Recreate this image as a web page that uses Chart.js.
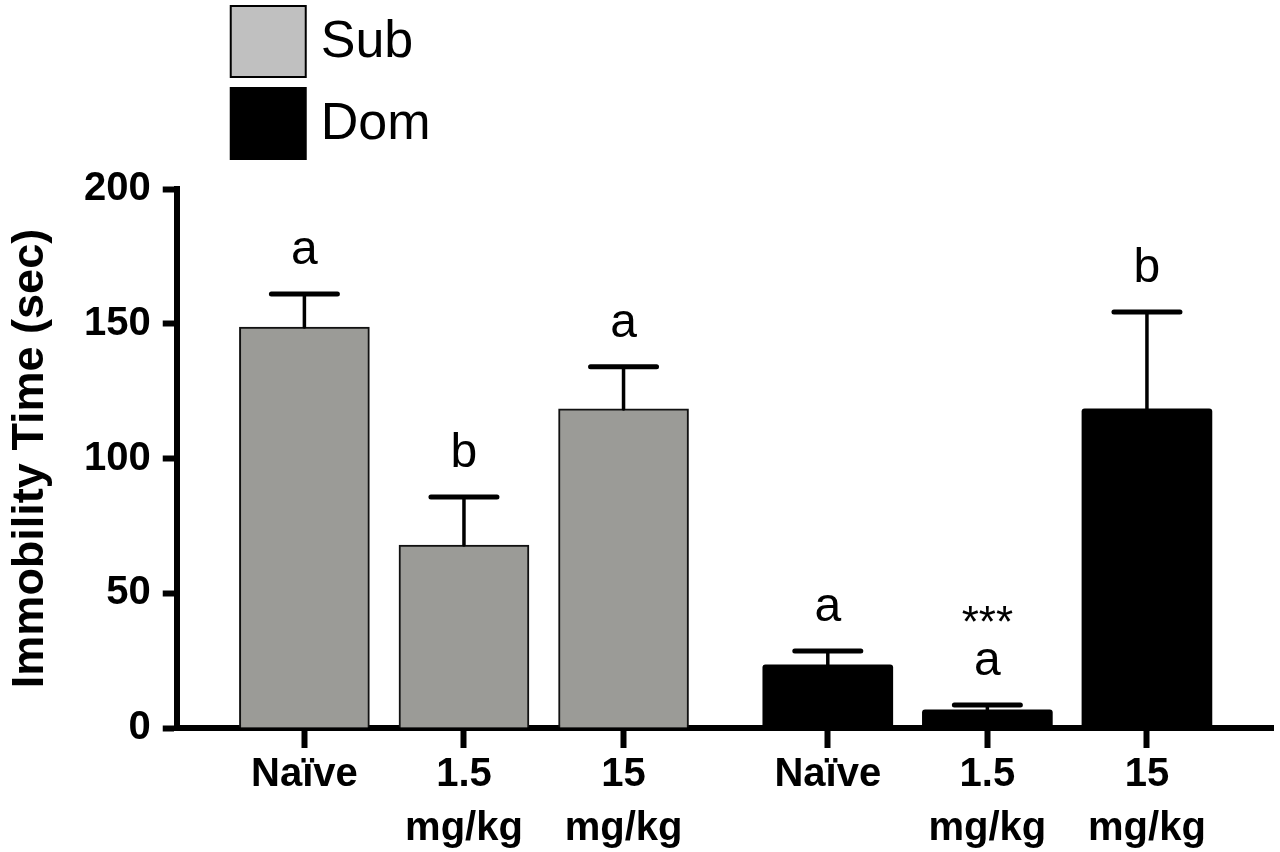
<!DOCTYPE html>
<html>
<head>
<meta charset="utf-8">
<script src="https://cdn.jsdelivr.net/npm/chart.js@4.4.1/dist/chart.umd.min.js"></script>
<style>
html,body{margin:0;padding:0;background:#fff;}
#wrap{width:1280px;height:852px;position:relative;}
</style>
</head>
<body>
<div id="wrap"><canvas id="c"></canvas></div>
<script>
// ---- data ----
const categories = [['Naïve'], ['1.5', 'mg/kg'], ['15', 'mg/kg']];
const groups = ['Sub', 'Dom'];
const subMeans = [148.8, 67.9, 118.4];
const subSEM = [12.2, 17.8, 15.6];
const domMeans = [23.4, 6.7, 118.4];
const domSEM = [5.2, 1.8, 36.0];
const subLetters = ['a', 'b', 'a'];
const domLetters = ['a', 'a', 'b'];
const domStars = ['', '***', ''];
const yTicks = [0, 50, 100, 150, 200];
const yTitle = 'Immobility Time (sec)';

// ---- layout helpers (positions on a linear x axis: index + group gap) ----
const GROUP_GAP = 0.28;
const subX = categories.map((c, i) => i);
const domX = categories.map((c, i) => categories.length + GROUP_GAP + i);
const allX = subX.concat(domX);
const allLabels = categories.concat(categories);

const FONT = "'Liberation Sans', Arial, Helvetica, sans-serif";

const subData = subMeans.map((v, i) => ({x: subX[i], y: v}));
const domData = domMeans.map((v, i) => ({x: domX[i], y: v}));

const annot = {
  id: 'annot',
  afterDatasetsDraw(chart) {
    const ctx = chart.ctx;
    const xs = chart.scales.x, ys = chart.scales.y;
    const sets = [
      {xv: subX, m: subMeans, e: subSEM, letters: subLetters, stars: ['', '', '']},
      {xv: domX, m: domMeans, e: domSEM, letters: domLetters, stars: domStars}
    ];
    ctx.save();
    sets.forEach(s => {
      s.xv.forEach((xv, i) => {
        const px = xs.getPixelForValue(xv);
        const py0 = ys.getPixelForValue(s.m[i]);
        const py1 = ys.getPixelForValue(s.m[i] + s.e[i]);
        ctx.strokeStyle = '#000';
        ctx.lineCap = 'round';
        ctx.lineWidth = 3.5;
        ctx.beginPath(); ctx.moveTo(px, py0); ctx.lineTo(px, py1); ctx.stroke();
        ctx.lineWidth = 5;
        ctx.beginPath(); ctx.moveTo(px - 33, py1); ctx.lineTo(px + 33, py1); ctx.stroke();
        ctx.fillStyle = '#000';
        ctx.textAlign = 'center';
        ctx.textBaseline = 'alphabetic';
        ctx.font = '48px ' + FONT;
        ctx.fillText(s.letters[i], px, py1 - 30);
        if (s.stars[i]) {
          ctx.font = '44px ' + FONT;
          ctx.fillText(s.stars[i], px, py1 - 68);
        }
      });
    });
    ctx.restore();
  },
  afterDraw(chart) {
    const ctx = chart.ctx;
    const left = chart.chartArea.left + 54;
    const items = [
      {label: groups[0], fill: '#c0c0c0', top: 6},
      {label: groups[1], fill: '#000000', top: 88}
    ];
    ctx.save();
    items.forEach(it => {
      ctx.fillStyle = it.fill;
      ctx.fillRect(left, it.top, 75, 71);
      ctx.strokeStyle = '#000';
      ctx.lineWidth = 2;
      ctx.strokeRect(left, it.top, 75, 71);
      ctx.fillStyle = '#000';
      ctx.font = '52px ' + FONT;
      ctx.textAlign = 'left';
      ctx.textBaseline = 'middle';
      ctx.fillText(it.label, left + 90, it.top + 37);
    });
    ctx.restore();
  }
};

new Chart(document.getElementById('c'), {
  type: 'bar',
  data: {
    datasets: [
      {label: groups[0], data: subData, backgroundColor: '#9b9b97', borderColor: '#111', borderWidth: 2, grouped: false, barThickness: 130},
      {label: groups[1], data: domData, backgroundColor: '#000', borderColor: '#000', borderWidth: 0, borderRadius: 3, borderSkipped: 'bottom', grouped: false, barThickness: 130}
    ]
  },
  options: {
    responsive: true,
    maintainAspectRatio: false,
    animation: false,
    layout: {padding: {top: 189, right: 7, bottom: -4, left: 0}},
    plugins: {legend: {display: false}, tooltip: {enabled: false}},
    scales: {
      x: {
        type: 'linear',
        offset: false,
        min: -0.8,
        max: 6.07,
        afterBuildTicks(scale) { scale.ticks = allX.map(v => ({value: v})); },
        ticks: {
          callback: (v, i) => allLabels[i],
          color: '#000',
          font: {family: FONT, size: 40, weight: 'bold', lineHeight: 1.35},
          padding: 0,
          maxRotation: 0,
          autoSkip: false
        },
        grid: {offset: false, drawOnChartArea: false, drawTicks: true, tickLength: 20, tickWidth: 6, tickColor: '#000'},
        border: {display: true, color: '#000', width: 6}
      },
      y: {
        min: 0,
        max: 200,
        afterBuildTicks(scale) { scale.ticks = yTicks.map(v => ({value: v})); },
        ticks: {
          color: '#000',
          font: {family: FONT, size: 40, weight: 'bold'},
          padding: 12
        },
        grid: {drawOnChartArea: false, drawTicks: true, tickLength: 14, tickWidth: 6, tickColor: '#000'},
        border: {display: true, color: '#000', width: 6},
        title: {
          display: true,
          text: yTitle,
          color: '#000',
          font: {family: FONT, size: 45, weight: 'bold'},
          padding: {top: 4, bottom: 14}
        }
      }
    }
  },
  plugins: [annot]
});
</script>
</body>
</html>
